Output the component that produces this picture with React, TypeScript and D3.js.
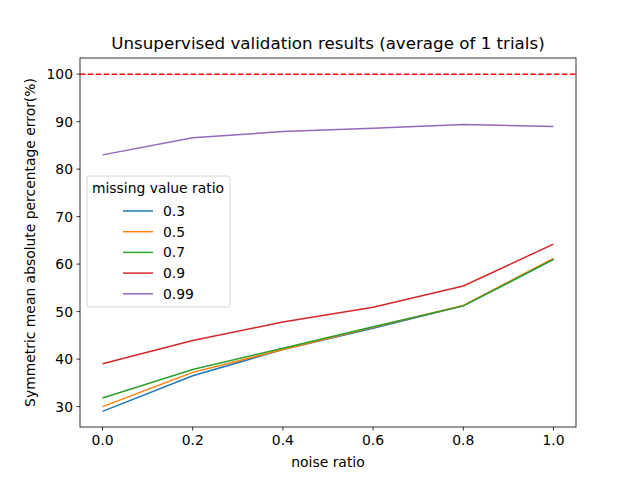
import React from "react";
import * as d3 from "d3";

const noise = [0, 0.2, 0.4, 0.6, 0.8, 1.0];
const seriesNames = ["0.3", "0.5", "0.7", "0.9", "0.99"];
const s03 = [29.0, 36.5, 42.0, 46.5, 51.2, 61.0];
const s05 = [30.0, 37.2, 42.0, 46.7, 51.3, 61.2];
const s07 = [31.8, 37.8, 42.3, 46.8, 51.2, 61.0];
const s09 = [39.0, 43.9, 47.8, 50.9, 55.4, 64.2];
const s099 = [83.0, 86.6, 87.9, 88.6, 89.4, 89.0];
const colors = ["#1f77b4", "#ff7f0e", "#2ca02c", "#d62728", "#9467bd"];
const xTicks = [0, 0.2, 0.4, 0.6, 0.8, 1.0];
const yTicks = [30, 40, 50, 60, 70, 80, 90, 100];

export default function App() {
  const L = 80, R = 576, T = 58, B = 427;
  const x = d3.scaleLinear().domain([-0.05, 1.05]).range([L, R]);
  const y = d3.scaleLinear().domain([25.7, 103.4]).range([B, T]);
  const all = [s03, s05, s07, s09, s099];
  const line = d3.line<number>().x((_, i) => x(noise[i])).y(d => y(d));
  const font = "DejaVu Sans, sans-serif";
  return (
    <svg width={640} height={480} style={{ position: "absolute", left: 0, top: 0 }} fontFamily={font}>
      <rect width={640} height={480} fill="white" />
      <text x={328} y={49} textAnchor="middle" fontSize={16.7}>Unsupervised validation results (average of 1 trials)</text>
      <line x1={L} x2={R} y1={y(100)} y2={y(100)} stroke="red" strokeWidth={1.5} strokeDasharray="5.5,2.4" />
      {all.map((s, i) => (
        <path key={i} d={line(s)!} fill="none" stroke={colors[i]} strokeWidth={1.5} />
      ))}
      <rect x={L} y={T} width={R - L} height={B - T} fill="none" stroke="black" strokeWidth={0.8} />
      {xTicks.map(t => (
        <g key={t}>
          <line x1={x(t)} x2={x(t)} y1={B} y2={B + 3.5} stroke="black" strokeWidth={0.8} />
          <text x={x(t)} y={B + 18} textAnchor="middle" fontSize={13.9}>{t.toFixed(1)}</text>
        </g>
      ))}
      {yTicks.map(t => (
        <g key={t}>
          <line x1={L} x2={L - 3.5} y1={y(t)} y2={y(t)} stroke="black" strokeWidth={0.8} />
          <text x={L - 7} y={y(t) + 5} textAnchor="end" fontSize={13.9}>{t}</text>
        </g>
      ))}
      <text x={328} y={467} textAnchor="middle" fontSize={13.9}>noise ratio</text>
      <text transform={`translate(35,${(T + B) / 2}) rotate(-90)`} textAnchor="middle" fontSize={13.9}>Symmetric mean absolute percentage error(%)</text>
      <rect x={87} y={176} width={143} height={131} rx={2} fill="white" fillOpacity={0.8} stroke="#cccccc" strokeWidth={0.8} />
      <text x={158} y={193} textAnchor="middle" fontSize={13.9}>missing value ratio</text>
      {seriesNames.map((n, i) => (
        <g key={n}>
          <line x1={123} x2={153} y1={211 + i * 20.7} y2={211 + i * 20.7} stroke={colors[i]} strokeWidth={1.5} />
          <text x={163} y={216 + i * 20.7} fontSize={13.9}>{n}</text>
        </g>
      ))}
    </svg>
  );
}
